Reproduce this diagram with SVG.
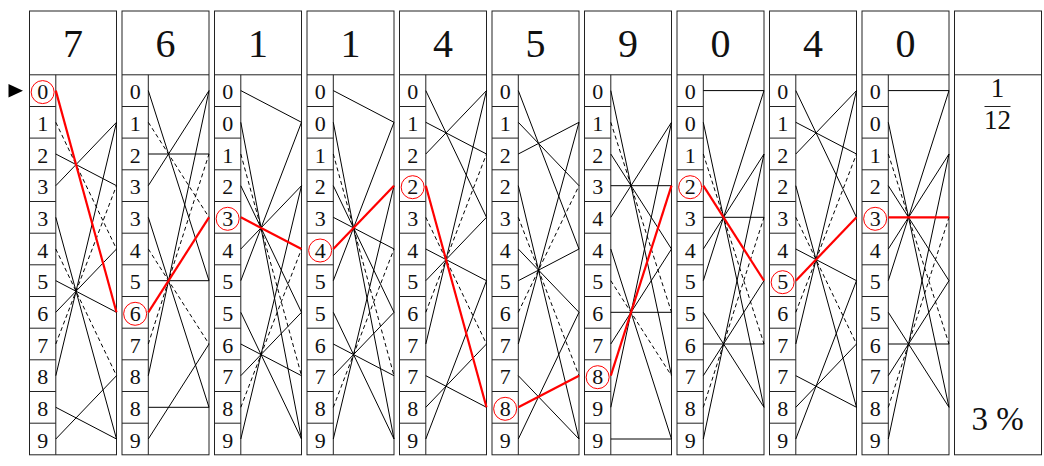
<svg xmlns="http://www.w3.org/2000/svg" xmlns:xlink="http://www.w3.org/1999/xlink" width="1044" height="466" viewBox="0 0 1044 466">
<style>
.fr{fill:#fff;stroke:#222;stroke-width:1}
.dv{fill:none;stroke:#222;stroke-width:1}
.hd{font-family:"Liberation Serif","DejaVu Serif",serif;font-size:40px;text-anchor:middle;fill:#111}
.dg{font-family:"Liberation Serif","DejaVu Serif",serif;font-size:22px;text-anchor:middle;fill:#111}
.big{font-family:"Liberation Serif","DejaVu Serif",serif;font-size:33px;text-anchor:middle;fill:#111}
.fr2{font-family:"Liberation Serif","DejaVu Serif",serif;font-size:27px;text-anchor:middle;fill:#111}
.sl{fill:none;stroke:#000;stroke-width:1}
.ds{fill:none;stroke:#000;stroke-width:1;stroke-dasharray:4 3}
.rd{fill:none;stroke:#f00;stroke-width:2.2}
.ci{fill:none;stroke:#f00;stroke-width:1}
</style>
<defs>
<g id="frame">
<rect class="fr" x="0" y="11" width="87" height="443.8"/>
<path class="dv" d="M0 74.8H87M26.3 74.8V454.8M0 106.5H26.3M0 138.1H26.3M0 169.8H26.3M0 201.5H26.3M0 233.2H26.3M0 264.8H26.3M0 296.5H26.3M0 328.2H26.3M0 359.8H26.3M0 391.5H26.3M0 423.2H26.3"/>
</g>
</defs>

<polygon id="pointer" points="8.5,84 8.5,97.5 23,90.7" fill="#000"/>

<g id="col1" transform="translate(29.5,0)">
<use xlink:href="#frame"/>
<text class="hd" x="43.5" y="57">7</text>
<g class="dg"><text x="13.15" y="99.1">0</text><text x="13.15" y="130.8">1</text><text x="13.15" y="162.5">2</text><text x="13.15" y="194.2">3</text><text x="13.15" y="225.8">3</text><text x="13.15" y="257.5">4</text><text x="13.15" y="289.2">5</text><text x="13.15" y="320.8">6</text><text x="13.15" y="352.5">7</text><text x="13.15" y="384.2">8</text><text x="13.15" y="415.8">8</text><text x="13.15" y="447.5">9</text></g>
<circle class="ci" cx="13.15" cy="92.1" r="11.5"/>
</g>

<g id="col2" transform="translate(122,0)">
<use xlink:href="#frame"/>
<text class="hd" x="43.5" y="57">6</text>
<g class="dg"><text x="13.15" y="99.1">0</text><text x="13.15" y="130.8">1</text><text x="13.15" y="162.5">2</text><text x="13.15" y="194.2">3</text><text x="13.15" y="225.8">3</text><text x="13.15" y="257.5">4</text><text x="13.15" y="289.2">5</text><text x="13.15" y="320.8">6</text><text x="13.15" y="352.5">7</text><text x="13.15" y="384.2">8</text><text x="13.15" y="415.8">8</text><text x="13.15" y="447.5">9</text></g>
<circle class="ci" cx="13.15" cy="313.8" r="11.5"/>
</g>

<g id="col3" transform="translate(214.5,0)">
<use xlink:href="#frame"/>
<text class="hd" x="43.5" y="57">1</text>
<g class="dg"><text x="13.15" y="99.1">0</text><text x="13.15" y="130.8">0</text><text x="13.15" y="162.5">1</text><text x="13.15" y="194.2">2</text><text x="13.15" y="225.8">3</text><text x="13.15" y="257.5">4</text><text x="13.15" y="289.2">5</text><text x="13.15" y="320.8">5</text><text x="13.15" y="352.5">6</text><text x="13.15" y="384.2">7</text><text x="13.15" y="415.8">8</text><text x="13.15" y="447.5">9</text></g>
<circle class="ci" cx="13.15" cy="218.8" r="11.5"/>
</g>

<g id="col4" transform="translate(307,0)">
<use xlink:href="#frame"/>
<text class="hd" x="43.5" y="57">1</text>
<g class="dg"><text x="13.15" y="99.1">0</text><text x="13.15" y="130.8">0</text><text x="13.15" y="162.5">1</text><text x="13.15" y="194.2">2</text><text x="13.15" y="225.8">3</text><text x="13.15" y="257.5">4</text><text x="13.15" y="289.2">5</text><text x="13.15" y="320.8">5</text><text x="13.15" y="352.5">6</text><text x="13.15" y="384.2">7</text><text x="13.15" y="415.8">8</text><text x="13.15" y="447.5">9</text></g>
<circle class="ci" cx="13.15" cy="250.5" r="11.5"/>
</g>

<g id="col5" transform="translate(399.5,0)">
<use xlink:href="#frame"/>
<text class="hd" x="43.5" y="57">4</text>
<g class="dg"><text x="13.15" y="99.1">0</text><text x="13.15" y="130.8">1</text><text x="13.15" y="162.5">2</text><text x="13.15" y="194.2">2</text><text x="13.15" y="225.8">3</text><text x="13.15" y="257.5">4</text><text x="13.15" y="289.2">5</text><text x="13.15" y="320.8">6</text><text x="13.15" y="352.5">7</text><text x="13.15" y="384.2">7</text><text x="13.15" y="415.8">8</text><text x="13.15" y="447.5">9</text></g>
<circle class="ci" cx="13.15" cy="187.2" r="11.5"/>
</g>

<g id="col6" transform="translate(492,0)">
<use xlink:href="#frame"/>
<text class="hd" x="43.5" y="57">5</text>
<g class="dg"><text x="13.15" y="99.1">0</text><text x="13.15" y="130.8">1</text><text x="13.15" y="162.5">2</text><text x="13.15" y="194.2">2</text><text x="13.15" y="225.8">3</text><text x="13.15" y="257.5">4</text><text x="13.15" y="289.2">5</text><text x="13.15" y="320.8">6</text><text x="13.15" y="352.5">7</text><text x="13.15" y="384.2">7</text><text x="13.15" y="415.8">8</text><text x="13.15" y="447.5">9</text></g>
<circle class="ci" cx="13.15" cy="408.8" r="11.5"/>
</g>

<g id="col7" transform="translate(584.5,0)">
<use xlink:href="#frame"/>
<text class="hd" x="43.5" y="57">9</text>
<g class="dg"><text x="13.15" y="99.1">0</text><text x="13.15" y="130.8">1</text><text x="13.15" y="162.5">2</text><text x="13.15" y="194.2">3</text><text x="13.15" y="225.8">4</text><text x="13.15" y="257.5">4</text><text x="13.15" y="289.2">5</text><text x="13.15" y="320.8">6</text><text x="13.15" y="352.5">7</text><text x="13.15" y="384.2">8</text><text x="13.15" y="415.8">9</text><text x="13.15" y="447.5">9</text></g>
<circle class="ci" cx="13.15" cy="377.2" r="11.5"/>
</g>

<g id="col8" transform="translate(677,0)">
<use xlink:href="#frame"/>
<text class="hd" x="43.5" y="57">0</text>
<g class="dg"><text x="13.15" y="99.1">0</text><text x="13.15" y="130.8">0</text><text x="13.15" y="162.5">1</text><text x="13.15" y="194.2">2</text><text x="13.15" y="225.8">3</text><text x="13.15" y="257.5">4</text><text x="13.15" y="289.2">5</text><text x="13.15" y="320.8">5</text><text x="13.15" y="352.5">6</text><text x="13.15" y="384.2">7</text><text x="13.15" y="415.8">8</text><text x="13.15" y="447.5">9</text></g>
<circle class="ci" cx="13.15" cy="187.2" r="11.5"/>
</g>

<g id="col9" transform="translate(769.5,0)">
<use xlink:href="#frame"/>
<text class="hd" x="43.5" y="57">4</text>
<g class="dg"><text x="13.15" y="99.1">0</text><text x="13.15" y="130.8">1</text><text x="13.15" y="162.5">2</text><text x="13.15" y="194.2">2</text><text x="13.15" y="225.8">3</text><text x="13.15" y="257.5">4</text><text x="13.15" y="289.2">5</text><text x="13.15" y="320.8">6</text><text x="13.15" y="352.5">7</text><text x="13.15" y="384.2">7</text><text x="13.15" y="415.8">8</text><text x="13.15" y="447.5">9</text></g>
<circle class="ci" cx="13.15" cy="282.2" r="11.5"/>
</g>

<g id="col10" transform="translate(862,0)">
<use xlink:href="#frame"/>
<text class="hd" x="43.5" y="57">0</text>
<g class="dg"><text x="13.15" y="99.1">0</text><text x="13.15" y="130.8">0</text><text x="13.15" y="162.5">1</text><text x="13.15" y="194.2">2</text><text x="13.15" y="225.8">3</text><text x="13.15" y="257.5">4</text><text x="13.15" y="289.2">5</text><text x="13.15" y="320.8">5</text><text x="13.15" y="352.5">6</text><text x="13.15" y="384.2">7</text><text x="13.15" y="415.8">8</text><text x="13.15" y="447.5">9</text></g>
<circle class="ci" cx="13.15" cy="218.8" r="11.5"/>
</g>

<g id="col11" transform="translate(954.5,0)">
<rect class="fr" x="0" y="11" width="87" height="443.8"/>
<path class="dv" d="M0 74.8H87"/>
<text class="fr2" x="43" y="97">1</text>
<path class="dv" d="M30 106.5H56"/>
<text class="fr2" x="43" y="128.5">12</text>
<text class="big" x="43" y="430">3 %</text>
</g>

<g id="connectors">
<g transform="translate(29.5,0)">
<path class="sl" d="M26.3 154L87 185.7M26.3 185.7L87 122.3M26.3 217.3L87 439M26.3 280.7L87 312.3M26.3 312.3L87 249M26.3 375.7L87 122.3M26.3 407.3L87 439M26.3 439L87 375.7"/>
<path class="ds" d="M26.3 122.3L87 249M26.3 249L87 375.7M26.3 344L87 185.7"/>
<path class="rd" d="M26.3 90.6L87 312.3"/>
</g>
<g transform="translate(122,0)">
<path class="sl" d="M26.3 90.6L87 280.7M26.3 154L87 154M26.3 185.7L87 90.6M26.3 217.3L87 407.3M26.3 280.7L87 280.7M26.3 375.7L87 90.6M26.3 407.3L87 407.3M26.3 439L87 344"/>
<path class="ds" d="M26.3 122.3L87 217.3M26.3 249L87 344M26.3 344L87 154"/>
<path class="rd" d="M26.3 312.3L87 217.3"/>
</g>
<g transform="translate(214.5,0)">
<path class="sl" d="M26.3 90.6L87 122.3M26.3 122.3L87 439M26.3 185.7L87 312.3M26.3 249L87 185.7M26.3 280.7L87 122.3M26.3 312.3L87 439M26.3 344L87 375.7M26.3 375.7L87 312.3M26.3 439L87 185.7"/>
<path class="ds" d="M26.3 154L87 375.7M26.3 407.3L87 249"/>
<path class="rd" d="M26.3 217.3L87 249"/>
</g>
<g transform="translate(307,0)">
<path class="sl" d="M26.3 90.6L87 122.3M26.3 122.3L87 439M26.3 185.7L87 312.3M26.3 217.3L87 249M26.3 280.7L87 122.3M26.3 312.3L87 439M26.3 344L87 375.7M26.3 375.7L87 312.3M26.3 439L87 185.7"/>
<path class="ds" d="M26.3 154L87 375.7M26.3 407.3L87 249"/>
<path class="rd" d="M26.3 249L87 185.7"/>
</g>
<g transform="translate(399.5,0)">
<path class="sl" d="M26.3 90.6L87 217.3M26.3 122.3L87 154M26.3 154L87 90.6M26.3 249L87 280.7M26.3 280.7L87 217.3M26.3 344L87 90.6M26.3 375.7L87 407.3M26.3 407.3L87 344M26.3 439L87 280.7"/>
<path class="ds" d="M26.3 217.3L87 344M26.3 312.3L87 154"/>
<path class="rd" d="M26.3 185.7L87 407.3"/>
</g>
<g transform="translate(492,0)">
<path class="sl" d="M26.3 90.6L87 249M26.3 122.3L87 185.7M26.3 154L87 122.3M26.3 185.7L87 439M26.3 249L87 312.3M26.3 280.7L87 249M26.3 344L87 122.3M26.3 375.7L87 439M26.3 439L87 312.3"/>
<path class="ds" d="M26.3 217.3L87 375.7M26.3 312.3L87 185.7"/>
<path class="rd" d="M26.3 407.3L87 375.7"/>
</g>
<g transform="translate(584.5,0)">
<path class="sl" d="M26.3 90.6L87 375.7M26.3 154L87 249M26.3 185.7L87 185.7M26.3 217.3L87 122.3M26.3 249L87 439M26.3 312.3L87 312.3M26.3 344L87 249M26.3 407.3L87 122.3M26.3 439L87 439"/>
<path class="ds" d="M26.3 122.3L87 312.3M26.3 280.7L87 375.7"/>
<path class="rd" d="M26.3 375.7L87 185.7"/>
</g>
<g transform="translate(677,0)">
<path class="sl" d="M26.3 90.6L87 90.6M26.3 122.3L87 407.3M26.3 217.3L87 217.3M26.3 249L87 154M26.3 280.7L87 90.6M26.3 312.3L87 407.3M26.3 344L87 344M26.3 375.7L87 280.7M26.3 439L87 154"/>
<path class="ds" d="M26.3 154L87 344M26.3 407.3L87 217.3"/>
<path class="rd" d="M26.3 185.7L87 280.7"/>
</g>
<g transform="translate(769.5,0)">
<path class="sl" d="M26.3 90.6L87 217.3M26.3 122.3L87 154M26.3 154L87 90.6M26.3 185.7L87 407.3M26.3 249L87 280.7M26.3 344L87 90.6M26.3 375.7L87 407.3M26.3 407.3L87 344M26.3 439L87 280.7"/>
<path class="ds" d="M26.3 217.3L87 344M26.3 312.3L87 154"/>
<path class="rd" d="M26.3 280.7L87 217.3"/>
</g>
<g transform="translate(862,0)">
<path class="sl" d="M26.3 90.6L87 90.6M26.3 122.3L87 407.3M26.3 185.7L87 280.7M26.3 249L87 154M26.3 280.7L87 90.6M26.3 312.3L87 407.3M26.3 344L87 344M26.3 375.7L87 280.7M26.3 439L87 154"/>
<path class="ds" d="M26.3 154L87 344M26.3 407.3L87 217.3"/>
<path class="rd" d="M26.3 217.3L87 217.3"/>
</g>
</g>
</svg>
